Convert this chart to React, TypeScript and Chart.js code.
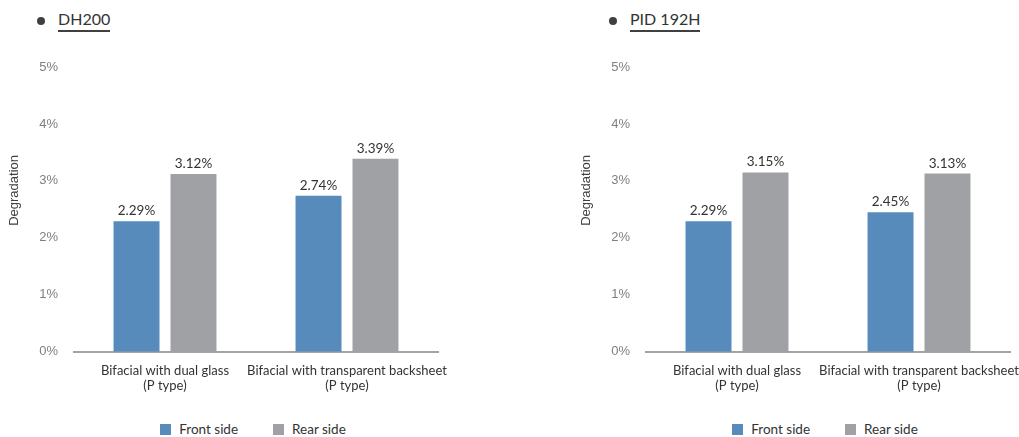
import { useEffect, useRef } from "react";
import { Chart, registerables } from "chart.js";

Chart.register(...registerables);

// Categories (two-line labels), series names and values in percent
const categories = [
  ["Bifacial with dual glass", "(P type)"],
  ["Bifacial with transparent backsheet", "(P type)"],
];
const seriesNames = ["Front side", "Rear side"];
const dh200Front = [2.29, 2.74];
const dh200Rear = [3.12, 3.39];
const pidFront = [2.29, 2.45];
const pidRear = [3.15, 3.13];
const yTickValues = [0, 1, 2, 3, 4, 5];
const panelTitles = ["DH200", "PID 192H"];
const yAxisTitle = "Degradation";

const seriesColors = ["#568bbb", "#a0a1a5"];
const textColor = "#333333";
const labelFont = "Lato";
const tickFont = "Liberation Sans";

// Prints each bar's value above it
const valueLabels = {
  id: "valueLabels",
  afterDatasetsDraw(chart: any) {
    const { ctx } = chart;
    ctx.save();
    ctx.font = `13.5px ${labelFont}`;
    ctx.fillStyle = textColor;
    ctx.textAlign = "center";
    ctx.textBaseline = "alphabetic";
    chart.data.datasets.forEach((ds: any, di: number) => {
      const meta = chart.getDatasetMeta(di);
      meta.data.forEach((bar: any, i: number) => {
        ctx.fillText(`${ds.data[i].toFixed(2)}%`, bar.x, bar.y - 6);
      });
    });
    ctx.restore();
  },
};

// Rotated y-axis title, placed a little above the middle of the plot
const yTitle = {
  id: "yTitle",
  afterDraw(chart: any) {
    const { ctx, chartArea } = chart;
    const y = chart.scales.y;
    ctx.save();
    ctx.font = `13px ${tickFont}`;
    ctx.fillStyle = "#404040";
    ctx.textAlign = "center";
    ctx.textBaseline = "middle";
    ctx.translate(y.left + 14, (chartArea.top + chartArea.bottom) / 2 - 19);
    ctx.rotate(-Math.PI / 2);
    ctx.fillText(yAxisTitle, 0, 0);
    ctx.restore();
  },
};

function Panel({ title, front, rear, left }: { title: string; front: number[]; rear: number[]; left: number }) {
  const ref = useRef<HTMLCanvasElement>(null);

  useEffect(() => {
    if (!ref.current) return;
    const chart = new Chart(ref.current, {
      type: "bar",
      data: {
        labels: categories,
        datasets: [
          { label: seriesNames[0], data: front, backgroundColor: seriesColors[0] },
          { label: seriesNames[1], data: rear, backgroundColor: seriesColors[1] },
        ],
      },
      options: {
        animation: false,
        responsive: false,
        maintainAspectRatio: false,
        categoryPercentage: 0.626,
        barPercentage: 0.807,
        layout: { padding: { left: 0, top: 67, right: 32, bottom: 5 } },
        plugins: { legend: { display: false }, tooltip: { enabled: false } },
        scales: {
          x: {
            grid: { display: false, drawTicks: false },
            border: { display: true, color: "#a3a3a5", width: 2 },
            ticks: { color: textColor, font: { family: labelFont, size: 13 }, padding: 11, maxRotation: 0, autoSkip: false },
          },
          y: {
            min: 0,
            max: 5,
            afterBuildTicks: (scale: any) => {
              scale.ticks = yTickValues.map((v) => ({ value: v }));
            },
            afterFit: (scale: any) => {
              scale.width = 74;
            },
            grid: { display: false, drawTicks: false },
            border: { display: false },
            ticks: {
              color: "#7f7f7f",
              font: { family: tickFont, size: 13 },
              padding: 16,
              callback: (v: any) => `${v}%`,
            },
          },
        },
      },
      plugins: [valueLabels, yTitle],
    });
    return () => chart.destroy();
  }, [front, rear]);

  return (
    <div style={{ position: "absolute", left, top: 0, width: 470, height: 437 }}>
      <div style={{ position: "absolute", left: 37, top: 9, display: "flex", alignItems: "center" }}>
        <span style={{ width: 8, height: 8, borderRadius: "50%", background: "#404040", marginRight: 13 }} />
        <span
          style={{
            fontFamily: labelFont,
            fontSize: 16,
            lineHeight: "20px",
            color: textColor,
            borderBottom: "2px solid #404040",
            paddingBottom: 1,
          }}
        >
          {title}
        </span>
      </div>
      <canvas ref={ref} width={470} height={410} style={{ position: "absolute", left: 0, top: 0, width: 470, height: 410 }} />
      <div
        style={{
          position: "absolute",
          left: 79,
          width: 348,
          top: 421,
          display: "flex",
          justifyContent: "center",
          alignItems: "center",
          fontFamily: labelFont,
          fontSize: 13.5,
          color: textColor,
        }}
      >
        {seriesNames.map((name, i) => (
          <span key={name} style={{ display: "flex", alignItems: "center", marginLeft: i ? 35 : 0 }}>
            <span style={{ width: 11, height: 11, background: seriesColors[i], marginRight: 8 }} />
            <span>{name}</span>
          </span>
        ))}
      </div>
    </div>
  );
}

export default function App() {
  return (
    <div style={{ position: "fixed", left: 0, top: 0, width: 1019, height: 437, overflow: "hidden", background: "#fff" }}>
      <Panel title={panelTitles[0]} front={dh200Front} rear={dh200Rear} left={0} />
      <Panel title={panelTitles[1]} front={pidFront} rear={pidRear} left={572} />
    </div>
  );
}
